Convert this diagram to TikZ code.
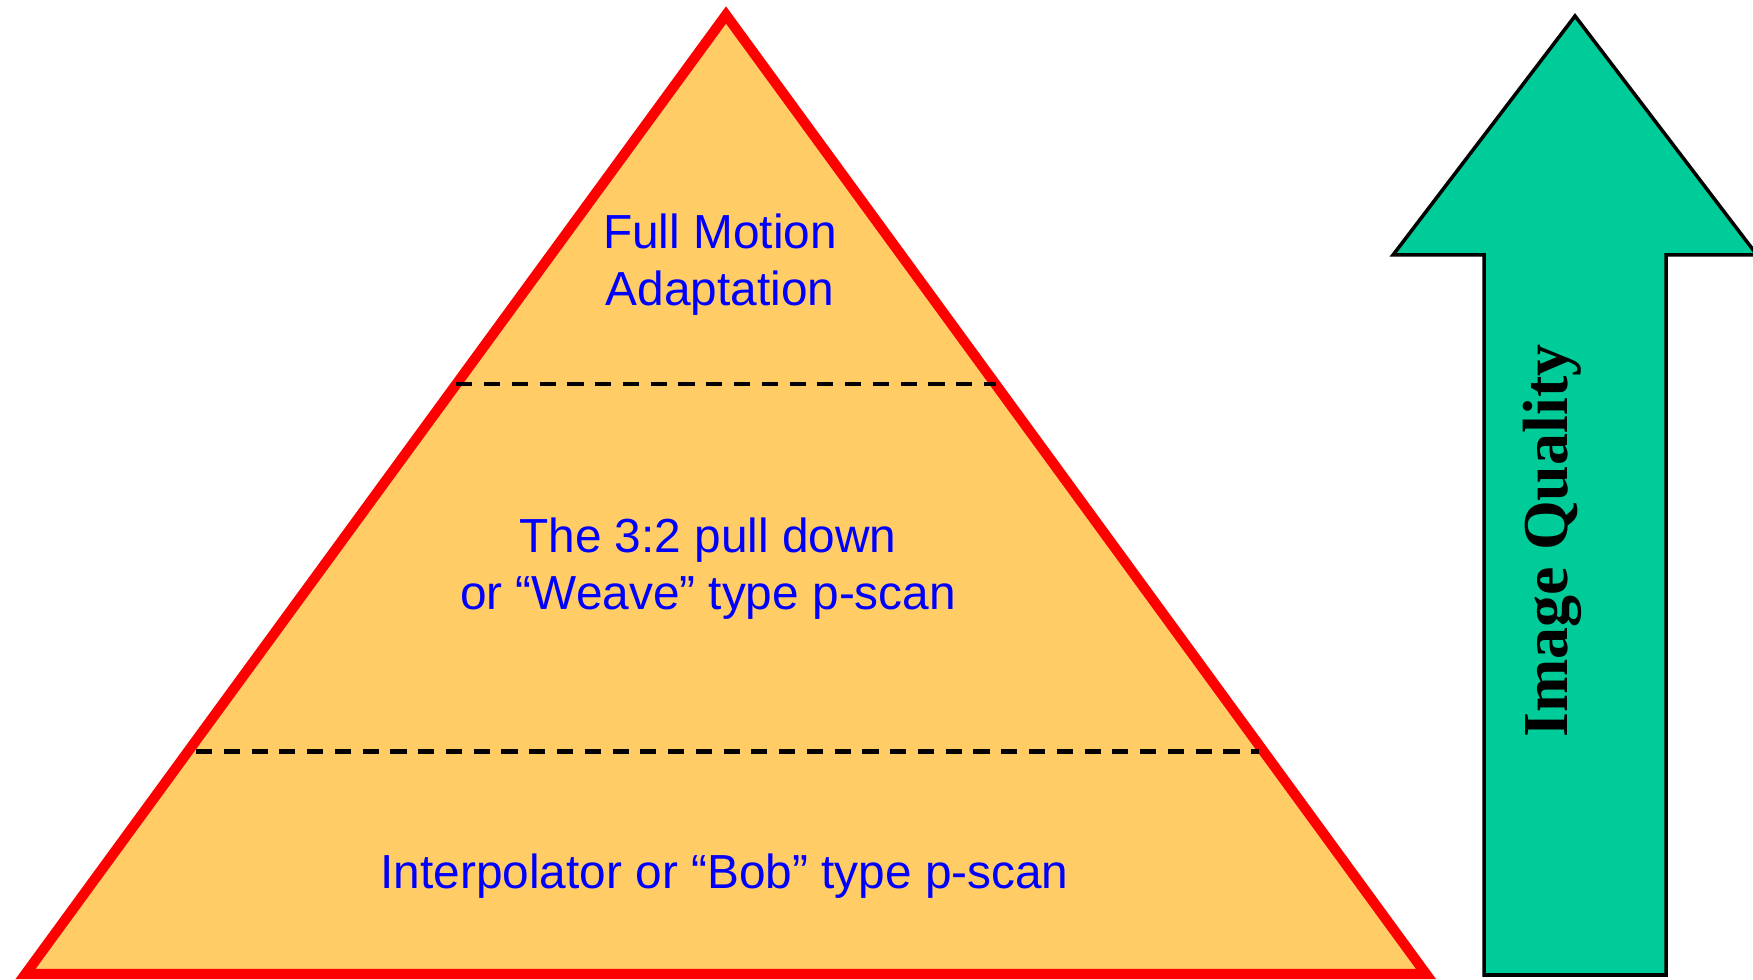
\documentclass[tikz,border=0pt]{standalone}
\usepackage{fontspec}
\setmainfont{Liberation Sans}
\newfontfamily\serifbold{Liberation Serif}
\usepackage{tikz}
\usetikzlibrary{calc, positioning}
\definecolor{PyramidFill}{HTML}{FFCC66}
\definecolor{EdgeRed}{HTML}{FF0000}
\definecolor{ArrowGreen}{HTML}{00CC99}
\definecolor{LabelBlue}{HTML}{0000FF}
\tikzset{
  % Shape styles
  pyramid/.style={draw=EdgeRed, fill=PyramidFill, line width=2.9pt, line join=miter},
  divider/.style={draw=black, line width=1.3pt, dash pattern=on 4.6pt off 3.3pt},
  qualityarrow/.style={draw=black, fill=ArrowGreen, line width=1pt, line join=miter},
  % Text styles
  layertext/.style={text=LabelBlue, font=\fontsize{13.6}{16.2}\selectfont, align=center, inner sep=0pt},
  qualitytext/.style={text=black, font=\serifbold\bfseries\fontsize{18.2}{20}\selectfont, rotate=90, inner sep=0pt}
}

\begin{document}
\begin{tikzpicture}
  \useasboundingbox (0,0) rectangle (17.53,9.79);

  % Pyramid corners
  \coordinate (apex) at (7.26,9.64);
  \coordinate (baseL) at (0.255,0.05);
  \coordinate (baseR) at (14.26,0.05);
  \draw[pyramid] (baseL) -- (apex) -- (baseR) -- cycle;

  % Layer borders
  \coordinate (d1L) at ($(baseL)!0.615!(apex)$);
  \coordinate (d1R) at ($(baseR)!0.615!(apex)$);
  \coordinate (d2L) at ($(baseL)!0.232!(apex)+(0.08,0)$);
  \coordinate (d2R) at ($(baseR)!0.232!(apex)-(0.05,0)$);
  \draw[divider] (d1L) -- (d1R);
  \draw[divider] (d2L) -- (d2R);

  % Layer labels
  \node[layertext] (top) at (7.20,7.145) {Full Motion\\Adaptation};
  \node[layertext] (mid) at (7.08,4.105) {The 3:2 pull down\\or “Weave” type p-scan};
  \node[layertext] (low) at (7.245,1.025) {Interpolator or “Bob” type p-scan};

  % Quality arrow
  \coordinate (tip) at (15.75,9.63);
  \draw[qualityarrow] (tip) -- (17.57,7.24) -- (16.66,7.24) -- (16.66,0.04)
    -- (14.84,0.04) -- (14.84,7.24) -- (13.93,7.24) -- cycle;
  \node[qualitytext] (quality) at (15.52,4.38) {Image Quality};
\end{tikzpicture}
\end{document}
